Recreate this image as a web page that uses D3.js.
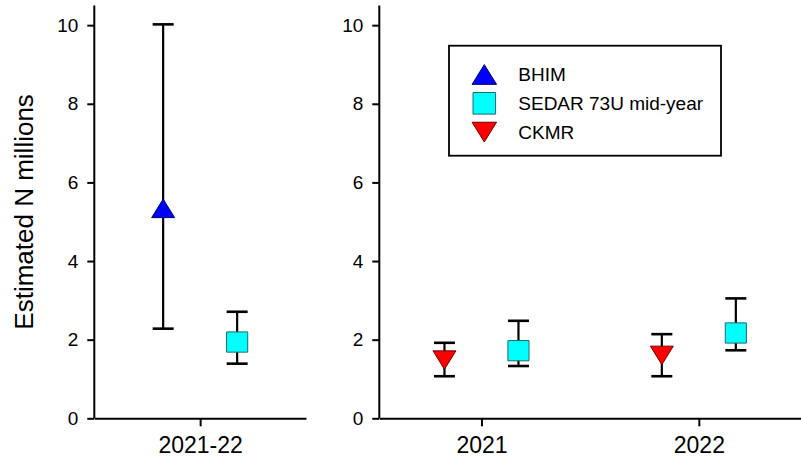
<!DOCTYPE html>
<html>
<head>
<meta charset="utf-8">
<script src="https://cdn.jsdelivr.net/npm/d3@7"></script>
<style>
  html, body { margin: 0; padding: 0; background: #fff; }
  svg { display: block; }
  text { font-family: "Liberation Sans", Arial, sans-serif; fill: #000; }
</style>
</head>
<body>
<svg id="chart" width="801" height="461"></svg>
<script>
// ---------------- data ----------------
const yTicks = [0, 2, 4, 6, 8, 10];
const leftCategories = ["2021-22"];
const rightCategories = ["2021", "2022"];
const seriesNames = ["BHIM", "SEDAR 73U mid-year", "CKMR"];

// left panel (2021-22)
const bhimCat   = ["2021-22"];
const bhimMean  = [5.34];
const bhimLow   = [2.28];
const bhimHigh  = [10.02];

const sedarLeftCat  = ["2021-22"];
const sedarLeftMean = [1.94];
const sedarLeftLow  = [1.39];
const sedarLeftHigh = [2.71];

// right panel (2021, 2022)
const ckmrCat  = ["2021", "2022"];
const ckmrMean = [1.48, 1.60];
const ckmrLow  = [1.07, 1.07];
const ckmrHigh = [1.92, 2.14];

const sedarRightCat  = ["2021", "2022"];
const sedarRightMean = [1.72, 2.17];
const sedarRightLow  = [1.33, 1.73];
const sedarRightHigh = [2.48, 3.05];

// ---------------- setup ----------------
const svg = d3.select("#chart");
const fill = d3.scaleOrdinal().domain(seriesNames).range(["#0000ff", "#00ffff", "#ff0000"]);
const edge = d3.scaleOrdinal().domain(seriesNames).range(["#00006e", "#1d6b6b", "#6e0000"]);
const shape = d3.scaleOrdinal().domain(seriesNames).range(["up", "square", "down"]);
const offset = d3.scaleOrdinal().domain(seriesNames).range([-37, 37, -37]);

const y = d3.scaleLinear().domain([0, 10.5]).range([418.3, 5.5]);

function symbolPath(kind, s) {
  const p = d3.path();
  if (kind === "up") {
    const w = s * 0.52, h = s * 0.42;
    p.moveTo(0, -h); p.lineTo(w, h); p.lineTo(-w, h); p.closePath();
  } else if (kind === "down") {
    const w = s * 0.52, h = s * 0.42;
    p.moveTo(-w, -h); p.lineTo(w, -h); p.lineTo(0, h); p.closePath();
  } else {
    const w = s * 0.48, h = s * 0.46;
    p.rect(-w, -h, 2 * w, 2 * h);
  }
  return p.toString();
}

function buildRows(name, cats, mean, low, high) {
  return cats.map((c, i) => ({ series: name, cat: c, mean: mean[i], low: low[i], high: high[i] }));
}

function drawPanel(g, x, rows, xLabelSize) {
  // y axis
  const yAxis = d3.axisLeft(y).tickValues(yTicks).tickSize(7).tickPadding(9).tickFormat(d3.format("d"));
  const ya = g.append("g").attr("transform", `translate(${x.range()[0]},0)`).call(yAxis);
  ya.select(".domain").attr("d", `M0,${y.range()[1]}V${y.range()[0]}`);
  ya.selectAll("line, path").attr("stroke", "#000").attr("stroke-width", 2);
  ya.selectAll("text").attr("font-size", 19).attr("font-family", "Liberation Sans, Arial, sans-serif");

  // x axis
  const xAxis = d3.axisBottom(x).tickSize(8).tickSizeOuter(0).tickPadding(10);
  const xa = g.append("g").attr("transform", `translate(0,${y(0)})`).call(xAxis);
  xa.selectAll("line, path").attr("stroke", "#000").attr("stroke-width", 2);
  xa.selectAll("text").attr("font-size", xLabelSize).attr("font-family", "Liberation Sans, Arial, sans-serif");

  const px = d => x(d.cat) + offset(d.series);

  const eb = g.append("g").selectAll("g").data(rows).join("g");
  eb.append("line")
    .attr("x1", px).attr("x2", px)
    .attr("y1", d => y(d.low)).attr("y2", d => y(d.high))
    .attr("stroke", "#000").attr("stroke-width", 2.2);
  eb.append("line")
    .attr("x1", d => px(d) - 10.5).attr("x2", d => px(d) + 10.5)
    .attr("y1", d => y(d.high)).attr("y2", d => y(d.high))
    .attr("stroke", "#000").attr("stroke-width", 2.6);
  eb.append("line")
    .attr("x1", d => px(d) - 10.5).attr("x2", d => px(d) + 10.5)
    .attr("y1", d => y(d.low)).attr("y2", d => y(d.low))
    .attr("stroke", "#000").attr("stroke-width", 2.6);

  g.append("g").selectAll("path").data(rows).join("path")
    .attr("transform", d => `translate(${px(d)},${y(d.mean)})`)
    .attr("d", d => symbolPath(shape(d.series), 22))
    .attr("fill", d => fill(d.series))
    .attr("stroke", d => edge(d.series))
    .attr("stroke-width", 1);
}

// left panel
const xLeft = d3.scalePoint().domain(leftCategories).range([94.3, 306]).padding(0.5);
const leftRows = [
  ...buildRows("BHIM", bhimCat, bhimMean, bhimLow, bhimHigh),
  ...buildRows("SEDAR 73U mid-year", sedarLeftCat, sedarLeftMean, sedarLeftLow, sedarLeftHigh)
];
drawPanel(svg.append("g"), xLeft, leftRows, 23);

// right panel
const xRight = d3.scalePoint().domain(rightCategories).range([379.3, 801]).padding(0.47);
const rightRows = [
  ...buildRows("CKMR", ckmrCat, ckmrMean, ckmrLow, ckmrHigh),
  ...buildRows("SEDAR 73U mid-year", sedarRightCat, sedarRightMean, sedarRightLow, sedarRightHigh)
];
drawPanel(svg.append("g"), xRight, rightRows, 23);

// y axis title
svg.append("text")
  .attr("transform", `translate(33,${(y(0) + y(10.5)) / 2}) rotate(-90)`)
  .attr("text-anchor", "middle")
  .attr("font-size", 26)
  .text("Estimated N millions");

// legend
const legend = svg.append("g");
legend.append("rect")
  .attr("x", 449).attr("y", 45.7).attr("width", 272).attr("height", 110)
  .attr("fill", "#fff").attr("stroke", "#000").attr("stroke-width", 1.8);
const li = legend.selectAll("g.item").data(seriesNames).join("g")
  .attr("class", "item")
  .attr("transform", (d, i) => `translate(484.3,${74.5 + i * 28.8})`);
li.append("path")
  .attr("d", d => symbolPath(shape(d), 23.5))
  .attr("fill", d => fill(d))
  .attr("stroke", d => edge(d))
  .attr("stroke-width", 1);
li.append("text")
  .attr("x", 34).attr("y", 0).attr("dy", "0.35em")
  .attr("font-size", 19)
  .text(d => d);
</script>
</body>
</html>
